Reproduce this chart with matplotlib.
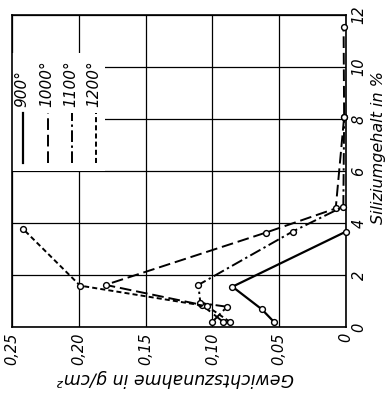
import matplotlib
matplotlib.use("Agg")
import matplotlib.pyplot as plt
from matplotlib.patches import Rectangle

# Data: x = Gewichtszunahme (g/cm^2), y = Siliziumgehalt (%)
si_900 = [0.2, 0.68, 1.55, 3.67]
g_900 = [0.054, 0.063, 0.085, 0.0]

si_1000 = [0.2, 0.85, 1.62, 3.63, 4.56, 8.07, 11.53]
g_1000 = [0.092, 0.108, 0.180, 0.060, 0.0077, 0.0014, 0.0018]

si_1100 = [0.2, 0.78, 0.92, 1.62, 3.67, 4.63, 8.07]
g_1100 = [0.100, 0.089, 0.109, 0.1105, 0.040, 0.002, 0.0014]

si_1200 = [0.2, 0.80, 1.59, 3.76]
g_1200 = [0.087, 0.104, 0.199, 0.2415]

labels = ["900°", "1000°", "1100°", "1200°"]
x_ticks = [0.25, 0.20, 0.15, 0.10, 0.05, 0.0]
x_ticklabels = ["0,25", "0,20", "0,15", "0,10", "0,05", "0"]
y_ticks = [0, 2, 4, 6, 8, 10, 12]
y_ticklabels = ["0", "2", "4", "6", "8", "10", "12"]

font = dict(family="DejaVu Sans", style="italic")

fig = plt.figure(figsize=(3.88, 3.94), dpi=100)
ax = fig.add_axes([12/388, (394-327)/394, 334/388, 312/394])

styles = [
    dict(linestyle="-", linewidth=1.6),
    dict(linestyle=(0, (6, 2.5)), linewidth=1.4),
    dict(linestyle=(0, (6, 1.8, 1.2, 1.8)), linewidth=1.4),
    dict(linestyle=(0, (2.6, 1.6)), linewidth=1.4),
]
series = [(g_900, si_900), (g_1000, si_1000), (g_1100, si_1100), (g_1200, si_1200)]
for (g, s), st in zip(series, styles):
    ax.plot(g, s, color="black", marker="o", markersize=4.2, markerfacecolor="white",
            markeredgewidth=1.0, zorder=3, clip_on=False, **st)

ax.set_xlim(0.25, 0)
ax.set_ylim(0, 12)
ax.set_xticks(x_ticks)
ax.set_xticklabels(x_ticklabels, rotation=90, fontsize=10.5, **font)
ax.yaxis.tick_right()
ax.set_yticks(y_ticks)
ax.set_yticklabels(y_ticklabels, rotation=90, fontsize=10.5, va="center", **font)
ax.tick_params(length=0, pad=4)
ax.grid(True, color="black", linewidth=0.9)
ax.set_axisbelow(True)
for sp in ax.spines.values():
    sp.set_linewidth(1.2)

ax.set_xlabel("Gewichtszunahme in g/cm²", rotation=180, fontsize=12.5,
              ha="center", va="center", **font)
ax.xaxis.set_label_coords(0.49, -0.165)
ax.yaxis.set_label_position("right")
ax.set_ylabel("Siliziumgehalt in %", rotation=90, fontsize=11.5,
              ha="center", va="center", **font)
ax.yaxis.set_label_coords(1.098, 0.575)

# legend area (vertical handles, rotated labels)
ax.add_patch(Rectangle((0, 0.50), 0.278, 0.378, transform=ax.transAxes,
                       facecolor="white", edgecolor="none", zorder=1))
leg_x = [0.033, 0.108, 0.180, 0.251]
for lx, lab, st in zip(leg_x, labels, styles):
    ax.plot([lx, lx], [0.526, 0.686], color="black", transform=ax.transAxes, zorder=3, **st)
    ax.text(lx - 0.005, 0.705, lab, transform=ax.transAxes, rotation=90, ha="center",
            va="bottom", fontsize=11, **font)

fig.savefig("out.png", dpi=100)
